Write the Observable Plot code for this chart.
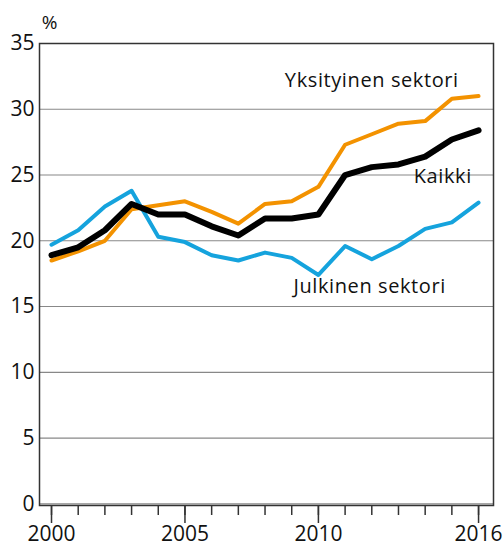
<!DOCTYPE html>
<html><head><meta charset="utf-8">
<script src="https://cdn.jsdelivr.net/npm/d3@7"></script>
<script src="https://cdn.jsdelivr.net/npm/@observablehq/plot@0.6"></script>
<style>body{margin:0;background:#fff;font-family:"Open Sans",sans-serif}</style>
</head><body><div id="chart"></div>
<script>
const years = [2000,2001,2002,2003,2004,2005,2006,2007,2008,2009,2010,2011,2012,2013,2014,2015,2016];
const kaikki = [18.9,19.5,20.8,22.8,22.0,22.0,21.1,20.4,21.7,21.7,22.0,25.0,25.6,25.8,26.4,27.7,28.4];
const yksityinen = [18.5,19.2,20.0,22.4,22.7,23.0,22.2,21.3,22.8,23.0,24.1,27.3,28.1,28.9,29.1,30.8,31.0];
const julkinen = [19.7,20.8,22.6,23.8,20.3,19.9,18.9,18.5,19.1,18.7,17.4,19.6,18.6,19.6,20.9,21.4,22.9];
const yTicks = [0,5,10,15,20,25,30,35];
const xLabelTicks = [2000,2005,2010,2016];
const seriesNames = ["Yksityinen sektori","Julkinen sektori","Kaikki"];
const labels = [
  {text:"Yksityinen sektori", x:2012.0, y:32.2},
  {text:"Kaikki", x:2014.66, y:24.85},
  {text:"Julkinen sektori", x:2011.92, y:16.5}
];
const unit = {text:"%", x:1999.93, y:36.55};

const rows = (vals, name) => years.map((yr,i)=>({year:yr, value:vals[i], name}));
const yk = rows(yksityinen, seriesNames[0]);
const ju = rows(julkinen, seriesNames[1]);
const ka = rows(kaikki, seriesNames[2]);

const chart = Plot.plot({
  width: 503, height: 547,
  marginTop: 43, marginLeft: 39, marginRight: 10, marginBottom: 42,
  style: {fontFamily: "Open Sans, sans-serif", fontSize: "20px", color: "#111", background: "#fff"},
  x: {domain: [1999.55, 2016.56], axis: null},
  y: {domain: [-0.13, 35], axis: null},
  marks: [
    Plot.ruleY(yTicks, {stroke: "#888", strokeWidth: 1.2}),
    Plot.frame({stroke: "#333", strokeWidth: 1.5}),
    Plot.axisY(yTicks, {tickSize: 0, tickPadding: 5, fontSize: 21, fill: "#111"}),
    Plot.axisX(years, {tickSize: 10, tickFormat: () => "", stroke: "#333", strokeWidth: 1.5}),
    Plot.axisX(xLabelTicks, {tickSize: 18, tickPadding: 3, tickFormat: d => String(d), fontSize: 21, fill: "#111", stroke: "#333", strokeWidth: 1.5}),
    Plot.line(ju, {x: "year", y: "value", stroke: "#15a3dd", strokeWidth: 4}),
    Plot.line(yk, {x: "year", y: "value", stroke: "#f39200", strokeWidth: 4}),
    Plot.line(ka, {x: "year", y: "value", stroke: "#000", strokeWidth: 6}),
    Plot.text(labels, {x: "x", y: "y", text: "text", fontSize: 20, fill: "#111", style: "letter-spacing:0.6px"}),
    Plot.text([unit], {x: "x", y: "y", text: "text", fontSize: 19, fill: "#111"})
  ]
});
chart.querySelectorAll("text").forEach(t => { if (/sektori|Kaikki/.test(t.textContent)) t.setAttribute("letter-spacing", "0.6"); });
document.getElementById("chart").appendChild(chart);
</script></body></html>
